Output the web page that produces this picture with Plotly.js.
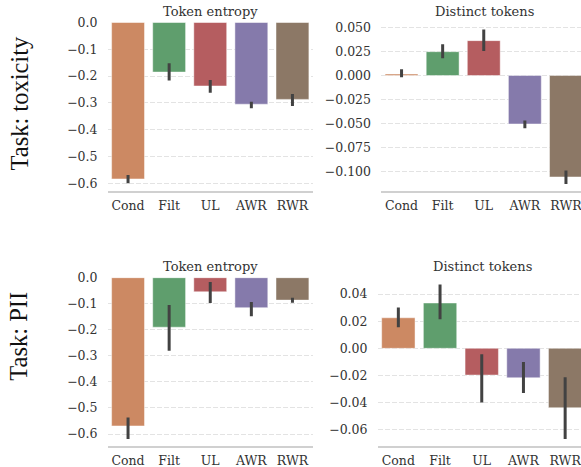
<!DOCTYPE html>
<html>
<head>
<meta charset="utf-8">
<script src="https://cdn.plot.ly/plotly-3.0.1.min.js"></script>
<style>html,body{margin:0;padding:0;background:#fff;}#chart{width:581px;height:467px;}</style>
</head>
<body>
<div id="chart"></div>
<script>
const methods = ['Cond', 'Filt', 'UL', 'AWR', 'RWR'];
const barColors = ['#CC8963', '#5F9E6D', '#B55D60', '#857AAB', '#8C7866'];

const toxEntropy   = [-0.584, -0.185, -0.237, -0.305, -0.287];
const toxEntropyLo = [-0.600, -0.217, -0.262, -0.320, -0.312];
const toxEntropyHi = [-0.569, -0.152, -0.215, -0.296, -0.267];

const toxDistinct   = [0.0015, 0.0248, 0.0363, -0.0505, -0.1057];
const toxDistinctLo = [-0.0017, 0.0180, 0.0255, -0.0550, -0.1130];
const toxDistinctHi = [0.0066, 0.0325, 0.0480, -0.0470, -0.0990];

const piiEntropy   = [-0.569, -0.190, -0.054, -0.115, -0.086];
const piiEntropyLo = [-0.619, -0.280, -0.097, -0.148, -0.096];
const piiEntropyHi = [-0.537, -0.105, -0.0165, -0.093, -0.077];

const piiDistinct   = [0.0225, 0.0334, -0.0197, -0.0217, -0.0438];
const piiDistinctLo = [0.0155, 0.0214, -0.0400, -0.0330, -0.0668];
const piiDistinctHi = [0.0300, 0.0470, -0.0044, -0.0100, -0.0214];

const panelTitles = ['Token entropy', 'Distinct tokens', 'Token entropy', 'Distinct tokens'];
const rowLabels = ['Task: toxicity', 'Task: PII'];

function barTrace(vals, lo, hi, xa, ya) {
  return {
    type: 'bar', x: methods, y: vals, xaxis: xa, yaxis: ya, width: 0.8,
    marker: {color: barColors, line: {color: 'rgba(255,255,255,0.45)', width: 1}},
    error_y: {type: 'data', symmetric: false,
      array: vals.map((v, i) => hi[i] - v),
      arrayminus: vals.map((v, i) => v - lo[i]),
      color: '#424242', thickness: 3, width: 0},
    showlegend: false, hoverinfo: 'skip'
  };
}

const data = [
  barTrace(toxEntropy, toxEntropyLo, toxEntropyHi, 'x', 'y'),
  barTrace(toxDistinct, toxDistinctLo, toxDistinctHi, 'x2', 'y2'),
  barTrace(piiEntropy, piiEntropyLo, piiEntropyHi, 'x3', 'y3'),
  barTrace(piiDistinct, piiDistinctLo, piiDistinctHi, 'x4', 'y4')
];

const W = 581, H = 467;
const tickFont = {family: 'DejaVu Serif', size: 12.5, color: '#333'};
function xax(d0, d1, r1, anchor) {
  return {domain: [d0 / W, d1 / W], range: [-0.5, r1], anchor: anchor,
    showgrid: false, zeroline: false, showline: true, linecolor: '#d0d0d0', linewidth: 2,
    ticks: '', tickfont: tickFont, ticklabelstandoff: 2, fixedrange: true};
}
function yax(top, bot, r0, r1, dt, fmt, anchor) {
  return {domain: [1 - bot / H, 1 - top / H], range: [r0, r1], anchor: anchor,
    dtick: dt, tick0: 0, tickformat: fmt, showgrid: true, gridcolor: '#e3e3e3', gridwidth: 1,
    griddash: '5px,2px', zeroline: false, showline: false, ticks: '',
    tickfont: tickFont, ticklabelstandoff: 9, fixedrange: true};
}

const layout = {
  width: W, height: H, margin: {l: 0, r: 0, t: 0, b: 0},
  paper_bgcolor: '#fff', plot_bgcolor: '#fff', bargap: 0.2,
  xaxis: xax(107.5, 313, 4.5, 'y'),
  yaxis: yax(22.3, 191, -0.629, 0.0007, 0.1, '.1f', 'x'),
  xaxis2: xax(381, 581, 4.366, 'y2'),
  yaxis2: yax(22.3, 191, -0.1203, 0.0554, 0.025, '.3f', 'x2'),
  xaxis3: xax(107.5, 313, 4.5, 'y3'),
  yaxis3: yax(277.5, 446, -0.646, 0.0008, 0.1, '.1f', 'x3'),
  xaxis4: xax(377.5, 581, 4.38, 'y4'),
  yaxis4: yax(277.5, 446, -0.072, 0.0522, 0.02, '.2f', 'x4'),
  annotations: [
    {text: panelTitles[0], x: 210 / W, y: 1 - 11.5 / H},
    {text: panelTitles[1], x: 484 / W, y: 1 - 11.5 / H},
    {text: panelTitles[2], x: 210 / W, y: 1 - 266.5 / H},
    {text: panelTitles[3], x: 482 / W, y: 1 - 266.5 / H}
  ].map(a => Object.assign({xref: 'paper', yref: 'paper', showarrow: false,
      xanchor: 'center', yanchor: 'middle', font: {family: 'DejaVu Serif', size: 13, color: '#333'}}, a))
   .concat([
    {text: rowLabels[0], x: 19 / W, y: 1 - 103.5 / H},
    {text: rowLabels[1], x: 19 / W, y: 1 - 336.7 / H}
  ].map(a => Object.assign({xref: 'paper', yref: 'paper', showarrow: false, textangle: -90,
      xanchor: 'center', yanchor: 'middle', font: {family: 'Liberation Serif', size: 24.5, color: '#111'}}, a)))
};

Plotly.newPlot('chart', data, layout, {staticPlot: true, displayModeBar: false});
</script>
</body>
</html>
